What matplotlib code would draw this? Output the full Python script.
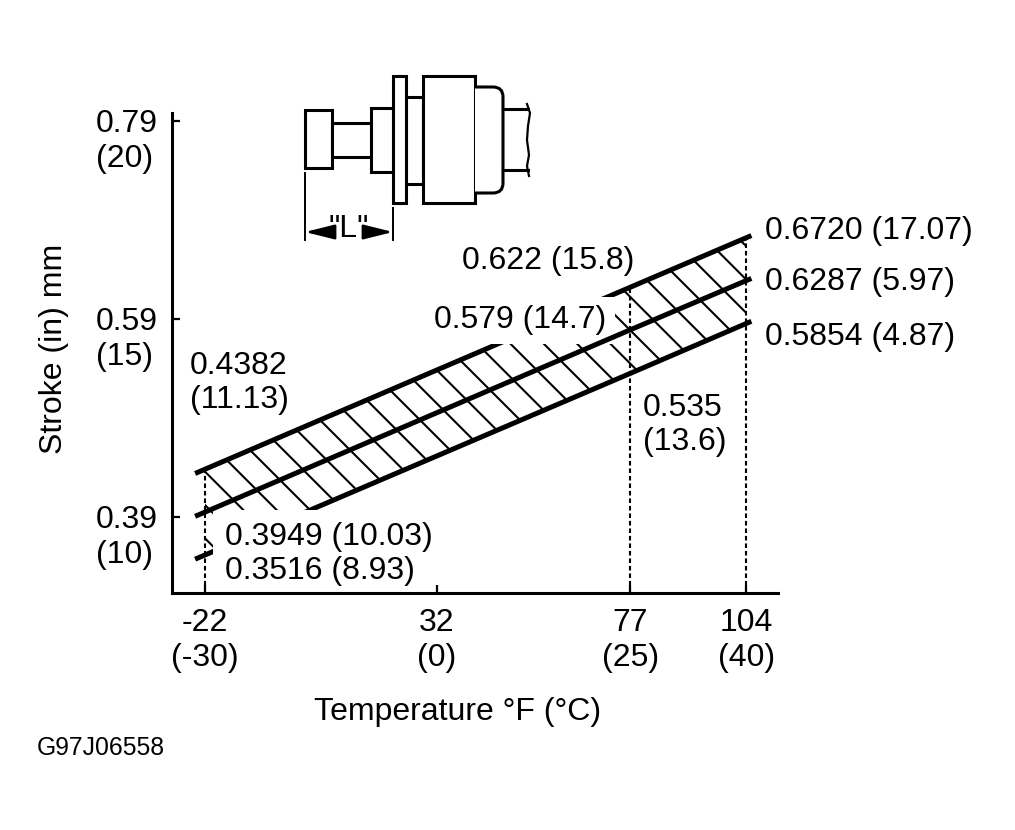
import numpy as np
import matplotlib
matplotlib.use("Agg")
import matplotlib.pyplot as plt
from matplotlib.patches import Rectangle, PathPatch
from matplotlib.path import Path
from matplotlib.transforms import ScaledTranslation

plt.rcParams['font.family'] = ['Liberation Sans', 'DejaVu Sans']
plt.rcParams['hatch.linewidth'] = 1.5

# ---------------- data ----------------
temp_f = [-22, 77, 104]
tick_temps_f = [-22, 32, 77, 104]
tick_temps_c = [-30, 0, 25, 40]
stroke_max_in = [0.4382, 0.622, 0.6720]
stroke_nom_in = [0.3949, 0.579, 0.6287]
stroke_min_in = [0.3516, 0.535, 0.5854]
stroke_max_lbl = ["0.4382\n(11.13)", "0.622 (15.8)", "0.6720 (17.07)"]
stroke_nom_lbl = ["0.3949 (10.03)", "0.579 (14.7)", "0.6287 (5.97)"]
stroke_min_lbl = ["0.3516 (8.93)", "0.535\n(13.6)", "0.5854 (4.87)"]
ytick_in = [0.39, 0.59, 0.79]
ytick_mm = [10, 15, 20]

FS = 23

fig = plt.figure(figsize=(10.15, 8.3), dpi=100)
ax = fig.add_axes([172 / 1015, (830 - 593) / 830, 606 / 1015, 480 / 830])
ax.set_xlim(-29.68, 111.4)
ymin = 0.3132
ax.set_ylim(ymin, 0.798)


def extended(vals, left=2.3, right=1.2):
    slope = (vals[-1] - vals[0]) / (temp_f[-1] - temp_f[0])
    xs = [temp_f[0] - left] + list(temp_f) + [temp_f[-1] + right]
    ys = [vals[0] - slope * left] + list(vals) + [vals[-1] + slope * right]
    return xs, ys


# hatched tolerance bands
ax.fill_between(temp_f, stroke_nom_in, stroke_max_in, facecolor='none',
                edgecolor='black', hatch='\\', linewidth=0, zorder=2)
ax.fill_between(temp_f, stroke_min_in, stroke_nom_in, facecolor='none',
                edgecolor='black', hatch='\\', linewidth=0, zorder=2)

# boundary lines
for vals, z in ((stroke_max_in, 3), (stroke_min_in, 3), (stroke_nom_in, 5)):
    xs, ys = extended(vals)
    ax.plot(xs, ys, color='black', lw=3.6, solid_capstyle='butt', zorder=z)

# dotted verticals
ax.vlines(temp_f, ymin, stroke_max_in, colors='black',
          linestyles=(0, (2.2, 1.4)), lw=1.5, zorder=3)

# value labels
ann = dict(textcoords='offset pixels', fontsize=FS, ha='left',
           va='center_baseline', zorder=4, annotation_clip=False)
ax.annotate(stroke_max_lbl[0], (temp_f[0], stroke_max_in[0]), xytext=(-15, 92), **ann)
ax.annotate(stroke_nom_lbl[0], (temp_f[0], stroke_nom_in[0]), xytext=(20, -21),
            bbox=dict(boxstyle='square,pad=0.36', fc='white', ec='none'), **ann)
ax.annotate(stroke_min_lbl[0], (temp_f[0], stroke_min_in[0]), xytext=(20, -13),
            bbox=dict(boxstyle='square,pad=0.12', fc='white', ec='none'), **ann)
ax.annotate(stroke_max_lbl[1], (temp_f[1], stroke_max_in[1]), xytext=(-168, 30), **ann)
ax.annotate(stroke_nom_lbl[1], (temp_f[1], stroke_nom_in[1]), xytext=(-196, 13),
            bbox=dict(boxstyle='square,pad=0.26', fc='white', ec='none'), **ann)
ax.annotate(stroke_min_lbl[1], (temp_f[1], stroke_min_in[1]), xytext=(13, -46), **ann)
ax.annotate(stroke_max_lbl[2], (temp_f[2], stroke_max_in[2]), xytext=(19, 10), **ann)
ax.annotate(stroke_nom_lbl[2], (temp_f[2], stroke_nom_in[2]), xytext=(19, 2), **ann)
ax.annotate(stroke_min_lbl[2], (temp_f[2], stroke_min_in[2]), xytext=(19, -10), **ann)

# axes styling
for s in ('top', 'right'):
    ax.spines[s].set_visible(False)
for s in ('left', 'bottom'):
    ax.spines[s].set_linewidth(2.2)
    ax.spines[s].set_zorder(6)

ax.set_xticks(tick_temps_f, labels=[f"{f}\n({c})" for f, c in zip(tick_temps_f, tick_temps_c)])
ax.set_yticks(ytick_in, labels=[f"{v:.2f}\n({m})" for v, m in zip(ytick_in, ytick_mm)])
ax.tick_params(axis='both', direction='in', length=6, width=1.6, color='black',
               labelsize=FS)
ax.tick_params(axis='x', pad=11)
ax.tick_params(axis='y', pad=55)
shift_down = ScaledTranslation(0, -15 / 100, fig.dpi_scale_trans)
for lab in ax.get_yticklabels():
    lab.set_ha('left')
    lab.set_va('center_baseline')
    lab.set_transform(lab.get_transform() + shift_down)
ax.set_facecolor('none')

ax.set_xlabel("Temperature °F (°C)", fontsize=FS)
ax.xaxis.set_label_coords(0.472, -0.248)
ax.xaxis.label.set_va('center')
ax.set_ylabel("Stroke (in) mm", fontsize=FS)
ax.yaxis.set_label_coords((54 - 172) / 606, 0.508)
ax.yaxis.label.set_va('center')

fig.text(37 / 1015, (830 - 748) / 830, "G97J06558", fontsize=17.8, va='center', ha='left')

# ---------------- inset part sketch (pixel space) ----------------
ov = fig.add_axes([0, 0, 1, 1])
ov.set_xlim(0, 1015)
ov.set_ylim(830, 0)
ov.axis('off')
ov.patch.set_alpha(0)
LW = 2.2


def rect(x0, x1, y0, y1):
    ov.add_patch(Rectangle((x0, y0), x1 - x0, y1 - y0, fc='white', ec='black', lw=LW))


rect(305, 332, 110, 168)
rect(332, 371, 123, 157)
rect(371, 393, 108, 172)
rect(406, 423, 97, 184)
rect(393, 406, 76, 203)
rect(423, 475, 76, 203)
# rounded cap
cap = Path([(475, 87), (493, 87), (503, 87), (503, 97), (503, 183), (503, 193),
            (493, 193), (475, 193)],
           [Path.MOVETO, Path.LINETO, Path.CURVE3, Path.CURVE3, Path.LINETO,
            Path.CURVE3, Path.CURVE3, Path.LINETO])
ov.add_patch(PathPatch(cap, fc='white', ec='black', lw=LW))
# shaft with break line
ov.plot([503, 528], [109, 109], color='black', lw=LW)
ov.plot([503, 528], [170, 170], color='black', lw=LW)
ov.plot([527, 530, 528, 527, 529, 527, 529], [104, 113, 126, 140, 155, 166, 176],
        color='black', lw=1.6)
# dimension "L"
ov.plot([305, 305], [173, 240], color='black', lw=1.4)
ov.plot([393, 393], [208, 240], color='black', lw=1.4)
arr = dict(arrowstyle='-|>,head_length=1.0,head_width=0.25', lw=1.8, color='black',
           shrinkA=0, shrinkB=0, mutation_scale=18)
ov.annotate('', xy=(305, 232), xytext=(333, 232), arrowprops=arr)
ov.annotate('', xy=(393, 232), xytext=(366, 232), arrowprops=arr)
ov.text(349, 229, '"L"', fontsize=FS, ha='center', va='center')

fig.savefig("out.png", dpi=100)
